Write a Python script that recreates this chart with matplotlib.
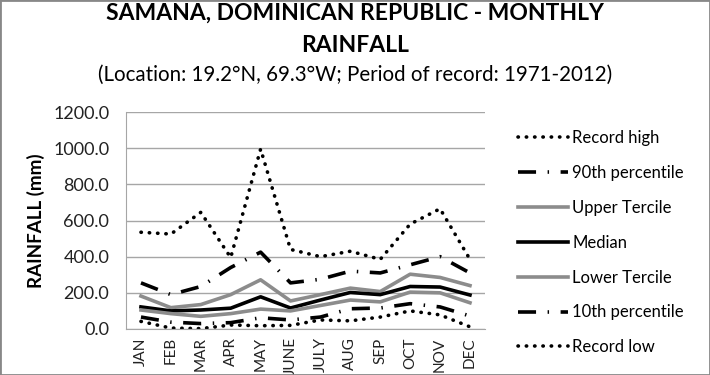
import numpy as np
import matplotlib.pyplot as plt
from matplotlib.patches import Rectangle

plt.rcParams['font.family'] = ['Lato', 'DejaVu Sans']

months = ['JAN', 'FEB', 'MAR', 'APR', 'MAY', 'JUNE', 'JULY', 'AUG', 'SEP', 'OCT', 'NOV', 'DEC']
record_high = [535, 525, 645, 395, 995, 440, 400, 430, 385, 580, 665, 385]
pct90 = [255, 190, 235, 340, 425, 255, 275, 320, 310, 355, 400, 310]
upper_tercile = [182, 118, 135, 190, 272, 155, 190, 226, 207, 303, 285, 240]
median = [122, 100, 105, 115, 178, 116, 160, 202, 190, 235, 232, 188]
lower_tercile = [105, 85, 70, 85, 110, 100, 130, 160, 150, 204, 200, 145]
pct10 = [66, 38, 30, 35, 62, 50, 66, 112, 116, 140, 122, 72]
record_low = [42, 5, 2, 22, 18, 20, 50, 45, 66, 100, 78, 12]

fig = plt.figure(figsize=(7.1, 3.75), dpi=100)
ax = fig.add_axes([0.1775, 0.1227, 0.5055, 0.5786])

x = np.arange(len(months))
dot = dict(linestyle=(0, (0.1, 2.2)), dash_capstyle='round', color='black', lw=2.6)
dashdot = dict(linestyle=(0, (5, 3.2, 0.4, 3.2)), dash_capstyle='butt', color='black', lw=2.6)
gray = '#8c8c8c'

ax.plot(x, record_high, label='Record high', **dot)
ax.plot(x, pct90, label='90th percentile', **dashdot)
ax.plot(x, upper_tercile, label='Upper Tercile', color=gray, lw=2.6)
ax.plot(x, median, label='Median', color='black', lw=2.6)
ax.plot(x, lower_tercile, label='Lower Tercile', color=gray, lw=2.6)
ax.plot(x, pct10, label='10th percentile', **dashdot)
ax.plot(x, record_low, label='Record low', **dot)

ax.set_xlim(-0.5, len(months) - 0.5)
ax.set_ylim(0, 1200)
ax.set_yticks(np.arange(0, 1201, 200))
ax.set_yticklabels(['%.1f' % v for v in np.arange(0, 1201, 200)], fontsize=13, color='#222222')
ax.set_xticks(x)
ax.set_xticklabels(months, rotation=90, fontsize=11, color='#222222')
ax.tick_params(axis='y', length=0, pad=12)
ax.tick_params(axis='x', length=0, pad=6)
ax.grid(axis='y', color='#a6a6a6', lw=1)
ax.set_axisbelow(True)
for s in ['top', 'right']:
    ax.spines[s].set_visible(False)
for s in ['left', 'bottom']:
    ax.spines[s].set_color('#a6a6a6')
ax.set_ylabel('RAINFALL (mm)', fontsize=13.5, fontweight='bold', labelpad=6)

leg = ax.legend(loc='upper left', bbox_to_anchor=(1.05, 0.985), frameon=False,
                fontsize=12, handlelength=3.0, handletextpad=0.25, labelspacing=1.13)

fig.text(0.5, 0.965, 'SAMANA, DOMINICAN REPUBLIC - MONTHLY', ha='center', va='center',
         fontsize=16.5, fontweight='bold')
fig.text(0.5, 0.878, 'RAINFALL', ha='center', va='center', fontsize=16.5, fontweight='bold')
fig.text(0.5, 0.8, '(Location: 19.2°N, 69.3°W; Period of record: 1971-2012)', ha='center',
         va='center', fontsize=14.8)

fig.patches.append(Rectangle((0, 0), 1, 1, transform=fig.transFigure, fill=False,
                             edgecolor='#888888', lw=2))

fig.savefig('out.png', dpi=100)
